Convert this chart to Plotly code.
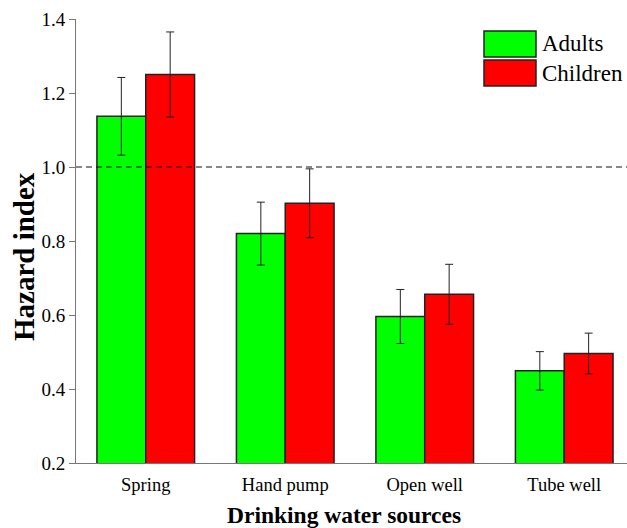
import plotly.graph_objects as go

categories = ["Spring", "Hand pump", "Open well", "Tube well"]
adults = [1.137, 0.820, 0.596, 0.449]
adults_err = [0.105, 0.085, 0.073, 0.052]
children = [1.250, 0.902, 0.656, 0.496]
children_err = [0.115, 0.093, 0.081, 0.055]
threshold = 1.0
y_ticks = [0.2, 0.4, 0.6, 0.8, 1.0, 1.2, 1.4]

FONT = "Liberation Serif"
GREEN = "#00FF00"
RED = "#FF0000"

L, R, T, B = 76, 0, 19, 65
W, H = 627, 528
PW, PH = W - L - R, H - T - B

def px_x(x):
    return (x - L) / PW

def px_y(y):
    return (H - B - y) / PH

fig = go.Figure()
fig.add_trace(go.Bar(
    name="Adults", x=categories, y=adults,
    marker=dict(color=GREEN, line=dict(color="#222", width=1.5)),
    error_y=dict(type="data", array=adults_err, color="#222", thickness=1, width=4),
    showlegend=False,
))
fig.add_trace(go.Bar(
    name="Children", x=categories, y=children,
    marker=dict(color=RED, line=dict(color="#222", width=1.5)),
    error_y=dict(type="data", array=children_err, color="#222", thickness=1, width=4),
    showlegend=False,
))

fig.add_shape(type="line", xref="paper", yref="y", x0=0, x1=1, y0=threshold, y1=threshold,
              line=dict(color="#111", width=1, dash="6px,4px"))

# custom legend (large swatches like reference)
legend_items = [("Adults", GREEN), ("Children", RED)]
for i, (name, col) in enumerate(legend_items):
    top = 31 + i * 29
    bot = top + 26
    fig.add_shape(type="rect", xref="paper", yref="paper",
                  x0=px_x(484), x1=px_x(536), y0=px_y(bot), y1=px_y(top),
                  fillcolor=col, line=dict(color="#222", width=1.5))
    fig.add_annotation(xref="paper", yref="paper", x=px_x(540), y=px_y((top + bot) / 2),
                       text=name, showarrow=False, xanchor="left", yanchor="middle",
                       font=dict(family=FONT, size=23, color="black"))

# axis titles
fig.add_annotation(xref="paper", yref="paper", x=px_x(24), y=px_y(256),
                   text="<b>Hazard index</b>", textangle=-90, showarrow=False,
                   xanchor="center", yanchor="middle",
                   font=dict(family=FONT, size=29, color="black"))
fig.add_annotation(xref="paper", yref="paper", x=px_x(344), y=px_y(515),
                   text="<b>Drinking water sources</b>", showarrow=False,
                   xanchor="center", yanchor="middle",
                   font=dict(family=FONT, size=23.5, color="black"))

fig.update_layout(
    width=W, height=H,
    margin=dict(l=L, r=R, t=T, b=B, autoexpand=False),
    paper_bgcolor="white", plot_bgcolor="white",
    barmode="group", bargap=0.3, bargroupgap=0,
    font=dict(family=FONT, size=18, color="black"),
    xaxis=dict(
        range=[-0.5, 3.45], showline=True, linecolor="#777", linewidth=1,
        ticks="", ticklen=0, showgrid=False, zeroline=False, automargin=False,
        tickfont=dict(family=FONT, size=18.5, color="black"),
        ticklabelstandoff=5,
    ),
    yaxis=dict(
        range=[0.2, 1.4], tickvals=y_ticks, ticktext=[f"{v:.1f}" for v in y_ticks],
        showline=True, linecolor="#777", linewidth=1,
        ticks="outside", ticklen=6, tickcolor="#777",
        showgrid=False, zeroline=False, automargin=False,
        tickfont=dict(family=FONT, size=19, color="black"),
    ),
)

fig.write_html(
    "out.html",
    config={"displayModeBar": False},
    post_script="document.body.style.margin='0';document.body.style.overflow='hidden';",
)
